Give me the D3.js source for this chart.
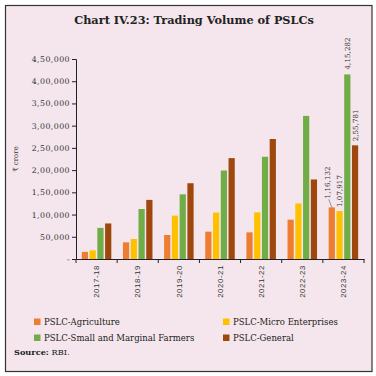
<!DOCTYPE html>
<html>
<head>
<meta charset="utf-8">
<script src="https://cdn.jsdelivr.net/npm/d3@7"></script>
<style>
  html, body { margin: 0; padding: 0; background: #fff; }
  svg { display: block; font-family: "DejaVu Serif", "Liberation Serif", serif; }
</style>
</head>
<body>
<div id="chart"></div>
<script>
// data
const categories = ["2017-18", "2018-19", "2019-20", "2020-21", "2021-22", "2022-23", "2023-24"];
const seriesNames = ["PSLC-Agriculture", "PSLC-Micro Enterprises", "PSLC-Small and Marginal Farmers", "PSLC-General"];
const agriculture = [16000, 37500, 54000, 61500, 60000, 88500, 116132];
const microEnterprises = [19500, 45000, 97500, 104500, 105000, 125000, 107917];
const smallMarginal = [70000, 112500, 145500, 199000, 230000, 322000, 415282];
const general = [80000, 133000, 170500, 227000, 270000, 179000, 255781];
const yTicks = [0, 50000, 100000, 150000, 200000, 250000, 300000, 350000, 400000, 450000];
const yTickLabels = ["-", "50,000", "1,00,000", "1,50,000", "2,00,000", "2,50,000", "3,00,000", "3,50,000", "4,00,000", "4,50,000"];
const lastLabels = ["1,16,132", "1,07,917", "4,15,282", "2,55,781"];
const colors = ["#ED7D31", "#FFC000", "#70AD47", "#9E480E"];

const seriesValues = [agriculture, microEnterprises, smallMarginal, general];
const width = 376, height = 376;
const margin = {top: 59, right: 12, bottom: 117, left: 76};

const svg = d3.select("#chart").append("svg")
  .attr("width", width).attr("height", height);

// frame
svg.append("rect")
  .attr("x", 5.5).attr("y", 5.5)
  .attr("width", 366.5).attr("height", 366)
  .attr("fill", "#f4e6ec")
  .attr("stroke", "#333").attr("stroke-width", 1.2);

svg.append("text")
  .attr("x", 194).attr("y", 24)
  .attr("text-anchor", "middle")
  .style("font-size", "11.3px").style("font-weight", "bold")
  .attr("fill", "#222")
  .text("Chart IV.23: Trading Volume of PSLCs");

const x0 = d3.scaleBand()
  .domain(categories)
  .range([margin.left, width - margin.right])
  .paddingInner(0.283).paddingOuter(0.1415);

const x1 = d3.scaleBand()
  .domain(d3.range(seriesNames.length))
  .range([0, x0.bandwidth()])
  .paddingInner(0.2);

const y = d3.scaleLinear()
  .domain([0, 450000])
  .range([height - margin.bottom, margin.top]);

// y axis
const yAxis = svg.append("g")
  .attr("transform", `translate(${margin.left},0)`)
  .call(d3.axisLeft(y).tickValues(yTicks).tickSize(4).tickPadding(2)
    .tickFormat((d, i) => yTickLabels[i]));
yAxis.select(".domain").attr("stroke", "#222");
yAxis.selectAll(".tick line").attr("stroke", "#222");
yAxis.selectAll("text").style("font-size", "7.8px").attr("fill", "#333")
  .style("font-family", "DejaVu Serif").style("letter-spacing", "0.45px");

svg.append("text")
  .attr("transform", `translate(18,${(y(0) + y(450000)) / 2}) rotate(-90)`)
  .attr("text-anchor", "middle")
  .style("font-size", "7px").attr("fill", "#333")
  .text("₹ crore");

// bars
const rows = categories.map((c, i) => ({cat: c, vals: seriesValues.map(s => s[i])}));
svg.append("g").selectAll("g")
  .data(rows)
  .join("g")
    .attr("transform", d => `translate(${x0(d.cat)},0)`)
  .selectAll("rect")
  .data(d => d.vals.map((v, k) => ({k, v})))
  .join("rect")
    .attr("x", d => x1(d.k))
    .attr("y", d => y(d.v))
    .attr("width", x1.bandwidth())
    .attr("height", d => y(0) - y(d.v))
    .attr("fill", d => colors[d.k]);

// x axis
const xAxis = svg.append("g")
  .attr("transform", `translate(0,${y(0)})`)
  .call(d3.axisBottom(x0).tickSize(0));
xAxis.select(".domain").attr("stroke", "#222");
xAxis.selectAll("text")
  .style("font-size", "7.8px").attr("fill", "#333")
  .style("letter-spacing", "0.6px")
  .attr("text-anchor", "end")
  .attr("transform", "rotate(-90)")
  .attr("x", -6).attr("y", 0)
  .attr("dy", "0.35em");
// boundary ticks
const step = x0.step();
svg.append("g").selectAll("line")
  .data(d3.range(categories.length + 1))
  .join("line")
    .attr("x1", i => margin.left + i * step).attr("x2", i => margin.left + i * step)
    .attr("y1", y(0)).attr("y2", y(0) + 4)
    .attr("stroke", "#222");

// data labels for 2023-24
const last = categories.length - 1;
const cx = k => x0(categories[last]) + x1(k) + x1.bandwidth() / 2;
const labels = [
  {k: 0, dx: -4, dy: 9, leader: true},
  {k: 1, dx: 0, dy: 4},
  {k: 2, dx: 0, dy: 5},
  {k: 3, dx: 0, dy: 4}
];
const lab = svg.append("g");
labels.forEach(l => {
  const v = seriesValues[l.k][last];
  const px = cx(l.k) + l.dx, py = y(v) - l.dy;
  lab.append("text")
    .attr("transform", `translate(${px},${py}) rotate(-90)`)
    .attr("dy", "0.35em")
    .style("font-size", "7px").attr("fill", "#333")
    .style("letter-spacing", "0.1px")
    .text(lastLabels[l.k]);
  if (l.leader) {
    lab.append("line")
      .attr("x1", px + 1).attr("y1", py + 1)
      .attr("x2", cx(l.k)).attr("y2", y(v))
      .attr("stroke", "#555").attr("stroke-width", 0.6);
  }
});

// legend
const legendPos = [[34, 322], [223, 322], [34, 338], [223, 338]];
const legend = svg.append("g");
seriesNames.forEach((n, i) => {
  const [lx, ly] = legendPos[i];
  legend.append("rect")
    .attr("x", lx).attr("y", ly - 3.5).attr("width", 6.5).attr("height", 6.5)
    .attr("fill", colors[i]);
  legend.append("text")
    .attr("x", lx + 10).attr("y", ly).attr("dy", "0.32em")
    .style("font-size", "8.5px").attr("fill", "#222")
    .text(n);
});

const src = svg.append("text").attr("x", 14).attr("y", 355)
  .style("font-size", "8.2px").attr("fill", "#222");
src.append("tspan").style("font-weight", "bold").text("Source:");
src.append("tspan").text(" RBI.");
</script>
</body>
</html>
